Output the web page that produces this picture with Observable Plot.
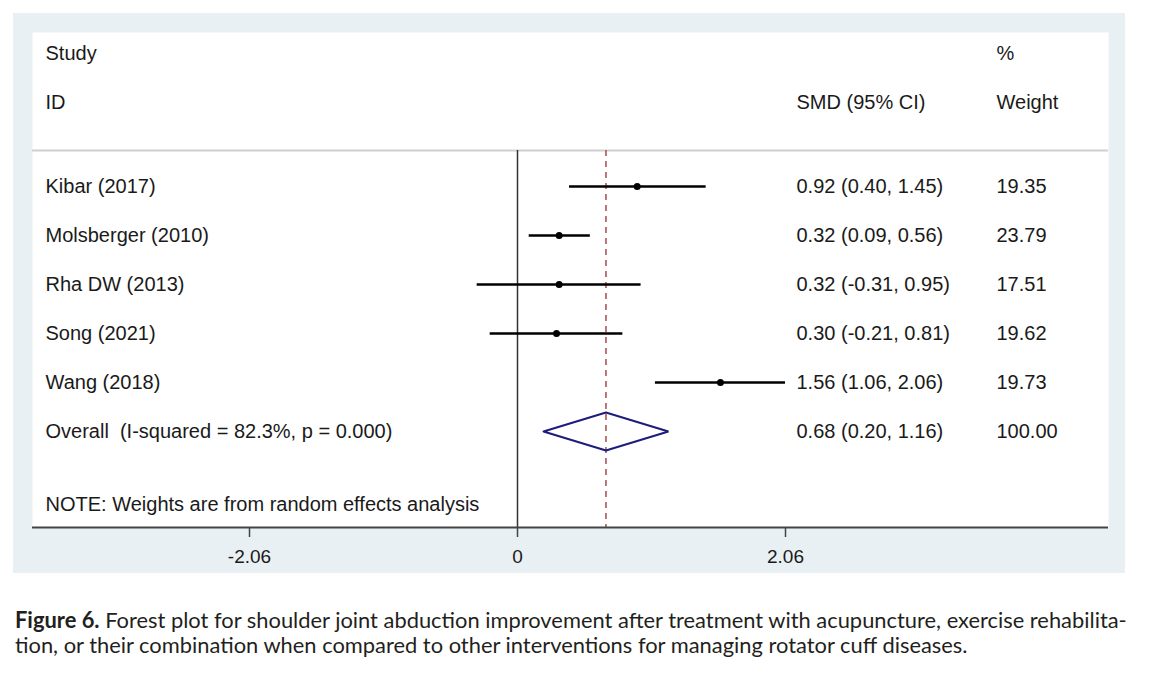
<!DOCTYPE html>
<html>
<head>
<meta charset="utf-8">
<script src="https://cdn.jsdelivr.net/npm/d3@7"></script>
<script src="https://cdn.jsdelivr.net/npm/@observablehq/plot@0.6"></script>
<style>
  html, body { margin: 0; padding: 0; background: #ffffff; }
  #page { position: relative; width: 1152px; height: 681px; overflow: hidden; }
  #panel { position: absolute; left: 13px; top: 13px; width: 1112px; height: 560px; background: #e9f0f3; }
  #caption { position: absolute; left: 15px; top: 607px; font-family: Lato, "Open Sans", sans-serif; color: #231f20; line-height: 25px; white-space: nowrap; font-size: 20px; }
  #caption b { font-weight: 700; }
  .ln { display: block; }
  .ln span.m { display: inline-block; }
</style>
</head>
<body>
<div id="page">
  <div id="panel"></div>
  <div id="caption">
    <span class="ln"><span class="m" id="l1"><b>Figure 6.</b> Forest plot for shoulder joint abduction improvement after treatment with acupuncture, exercise rehabilita-</span></span>
    <span class="ln"><span class="m" id="l2">tion, or their combination when compared to other interventions for managing rotator cuff diseases.</span></span>
  </div>
</div>
<script>
// ---- data ----
const studies = ["Kibar (2017)", "Molsberger (2010)", "Rha DW (2013)", "Song (2021)", "Wang (2018)"];
const smd     = [0.92, 0.32, 0.32, 0.30, 1.56];
const lower   = [0.40, 0.09, -0.31, -0.21, 1.06];
const upper   = [1.45, 0.56, 0.95, 0.81, 2.06];
const weights = [19.35, 23.79, 17.51, 19.62, 19.73];

const overallLabel = "Overall\u00a0 (I-squared = 82.3%, p = 0.000)";
const overallSmd = 0.68, overallLower = 0.20, overallUpper = 1.16, overallWeight = 100.00;

const xTicks = [-2.06, 0, 2.06];
const noteText = "NOTE: Weights are from random effects analysis";

// ---- layout (row units) ----
const HEAD1 = -2.714, HEAD2 = -1.714, SEP = -0.735, NOTE = 6.49, AXIS = 6.959, OVERALL = 5;
const DIAMOND_H = 0.388;

const fmt = v => v.toFixed(2);
const rows = studies.map((s, i) => ({
  study: s, smd: smd[i], lower: lower[i], upper: upper[i], weight: weights[i], row: i,
  ci: `${fmt(smd[i])} (${fmt(lower[i])}, ${fmt(upper[i])})`
}));
const overall = {study: overallLabel, smd: overallSmd, lower: overallLower, upper: overallUpper,
  weight: overallWeight, row: OVERALL,
  ci: `${fmt(overallSmd)} (${fmt(overallLower)}, ${fmt(overallUpper)})`};
const allRows = [...rows, overall];
const diamond = [
  {x: overall.lower, y: OVERALL},
  {x: overall.smd, y: OVERALL - DIAMOND_H},
  {x: overall.upper, y: OVERALL},
  {x: overall.smd, y: OVERALL + DIAMOND_H},
  {x: overall.lower, y: OVERALL}
];

const FONT = "'Liberation Sans', Arial, sans-serif";
const TXT = "#1a1a1a";
const colStudy = 13, colCI = 764, colW = 964;

const chart = Plot.plot({
  width: 1112, height: 560,
  marginLeft: 19, marginRight: 17, marginTop: 19, marginBottom: 46,
  x: {domain: [-2.06, 2.06], range: [236, 772]},
  y: {domain: [0, 5], range: [173, 418], axis: null},
  style: {background: "transparent", fontFamily: FONT, fontSize: "20px", color: TXT, overflow: "visible"},
  marks: [
    Plot.frame({fill: "white", stroke: null}),
    Plot.ruleY([SEP], {stroke: "#cfcfcf", strokeWidth: 2}),
    Plot.ruleX([0], {y1: SEP, y2: AXIS, stroke: "#333", strokeWidth: 1.5}),
    Plot.ruleX([overallSmd], {y1: SEP, y2: AXIS, stroke: "#a84a4a", strokeWidth: 1.5, strokeDasharray: "6,5"}),
    Plot.ruleY(rows, {y: "row", x1: "lower", x2: "upper", stroke: "black", strokeWidth: 2.5}),
    Plot.dot(rows, {x: "smd", y: "row", r: 3.5, fill: "black", stroke: null}),
    Plot.line(diamond, {x: "x", y: "y", stroke: "#1c1c7c", strokeWidth: 2, strokeLinejoin: "miter"}),
    // headers
    Plot.text(["Study"], {text: d => d, y: () => HEAD1, frameAnchor: "left", dx: colStudy, textAnchor: "start", fill: TXT, fontSize: 20}),
    Plot.text(["ID"], {text: d => d, y: () => HEAD2, frameAnchor: "left", dx: colStudy, textAnchor: "start", fill: TXT, fontSize: 20}),
    Plot.text(["SMD (95% CI)"], {text: d => d, y: () => HEAD2, frameAnchor: "left", dx: colCI, textAnchor: "start", fill: TXT, fontSize: 20}),
    Plot.text(["%"], {text: d => d, y: () => HEAD1, frameAnchor: "left", dx: colW, textAnchor: "start", fill: TXT, fontSize: 20}),
    Plot.text(["Weight"], {text: d => d, y: () => HEAD2, frameAnchor: "left", dx: colW, textAnchor: "start", fill: TXT, fontSize: 20}),
    // rows
    Plot.text(allRows, {text: "study", y: "row", frameAnchor: "left", dx: colStudy, textAnchor: "start", fill: TXT, fontSize: 20}),
    Plot.text(allRows, {text: "ci", y: "row", frameAnchor: "left", dx: colCI, textAnchor: "start", fill: TXT, fontSize: 20}),
    Plot.text(allRows, {text: d => fmt(d.weight), y: "row", frameAnchor: "left", dx: colW, textAnchor: "start", fill: TXT, fontSize: 20}),
    Plot.text([noteText], {text: d => d, y: () => NOTE, frameAnchor: "left", dx: colStudy, textAnchor: "start", fill: TXT, fontSize: 20}),
    // axis
    Plot.ruleY([AXIS], {stroke: "#444", strokeWidth: 2}),
    Plot.axisX({ticks: xTicks, tickFormat: d => d === 0 ? "0" : fmt(d), tickSize: 10, tickPadding: 12,
      stroke: "#444", strokeWidth: 1.5, fill: TXT, fontSize: 19, label: null})
  ]
});
document.getElementById("panel").appendChild(chart);

// fit caption line 1 to its width in the reference
const l1 = document.getElementById("l1");
const w = l1.getBoundingClientRect().width;
if (w > 0) document.getElementById("caption").style.fontSize = (20 * 1112 / w) + "px";
</script>
</body>
</html>
